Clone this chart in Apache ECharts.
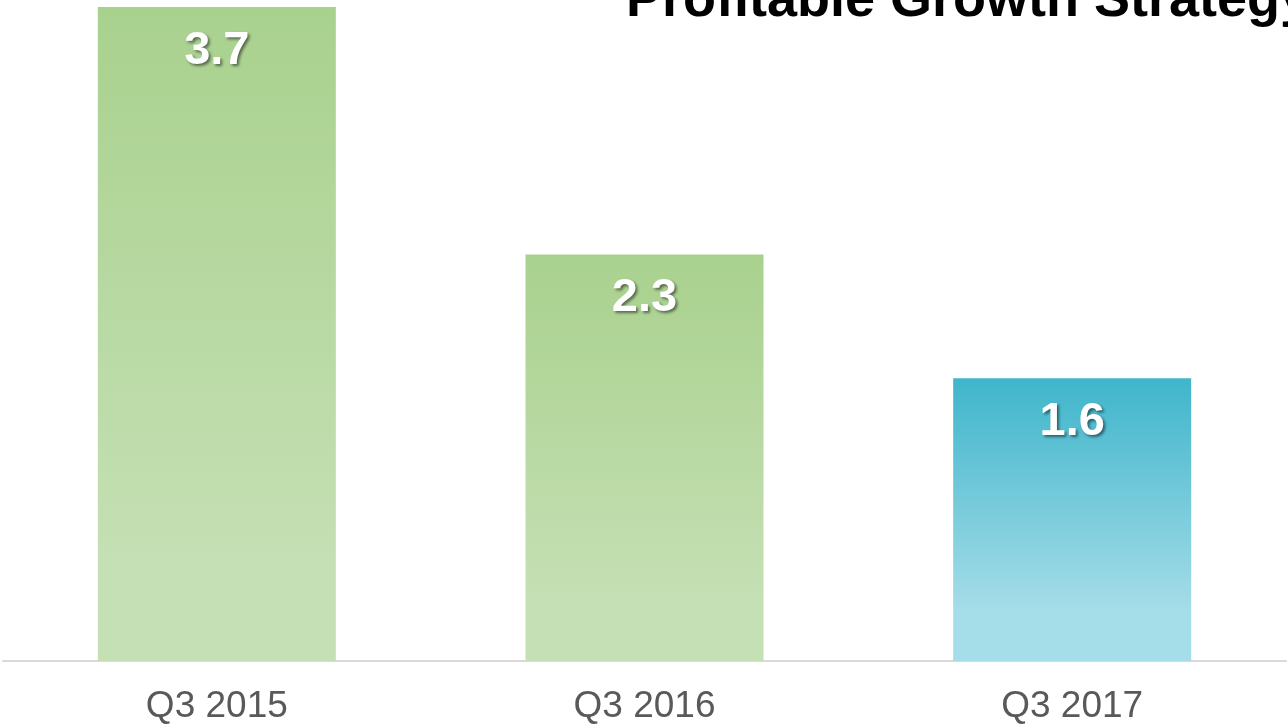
<!DOCTYPE html>
<html>
<head>
<meta charset="utf-8">
<script src="https://cdn.jsdelivr.net/npm/echarts@6/dist/echarts.min.js"></script>
<style>
  html, body { margin: 0; padding: 0; background: #ffffff; }
  #chart { width: 1288px; height: 728px; }
</style>
</head>
<body>
<div id="chart"></div>
<script>
// Quarterly values shown on the bars
const categories = ['Q3 2015', 'Q3 2016', 'Q3 2017'];
const values = [3.7, 2.3, 1.6];
const titleText = 'Profitable Growth Strategy';

// Fill colours: two green bars, the latest quarter in blue
const greenFill = { top: '#a9d18e', bottom: '#c5e0b4' };
const blueFill = { top: '#3fb5cb', bottom: '#a5dde8' };

function barGradient(fill, stop) {
  return new echarts.graphic.LinearGradient(0, 0, 0, 1, [
    { offset: 0, color: fill.top },
    { offset: stop, color: fill.bottom },
    { offset: 1, color: fill.bottom }
  ]);
}

const fills = [greenFill, greenFill, blueFill];
const stops = [0.85, 0.85, 0.82];

const chart = echarts.init(document.getElementById('chart'), null, { renderer: 'canvas' });

chart.setOption({
  backgroundColor: '#ffffff',
  animation: false,
  title: {
    text: titleText,
    left: 621,
    top: -31,
    textStyle: {
      fontFamily: 'Liberation Sans, Arial, sans-serif',
      fontWeight: 'bold',
      fontSize: 54,
      color: '#000000'
    }
  },
  grid: { left: 3, right: 2, top: 0, bottom: 67, containLabel: false },
  xAxis: {
    type: 'category',
    data: categories,
    axisLine: { show: true, lineStyle: { color: '#d9d9d9', width: 2 } },
    axisTick: { show: false },
    axisLabel: {
      color: '#595959',
      fontFamily: 'Liberation Sans, Arial, sans-serif',
      fontSize: 37,
      margin: 27
    }
  },
  yAxis: {
    type: 'value',
    min: 0,
    max: 3.74,
    show: false,
    splitLine: { show: false }
  },
  series: [{
    type: 'bar',
    barWidth: 238,
    data: values.map((v, i) => ({
      value: v,
      itemStyle: { color: barGradient(fills[i], stops[i]) }
    })),
    label: {
      show: true,
      position: 'insideTop',
      distance: 20,
      formatter: p => p.value.toFixed(1),
      color: '#ffffff',
      fontFamily: 'Liberation Sans, Arial, sans-serif',
      fontWeight: 'bold',
      fontSize: 47,
      textShadowColor: 'rgba(0,0,0,0.5)',
      textShadowBlur: 3,
      textShadowOffsetX: 2,
      textShadowOffsetY: 2
    }
  }]
});
</script>
</body>
</html>
